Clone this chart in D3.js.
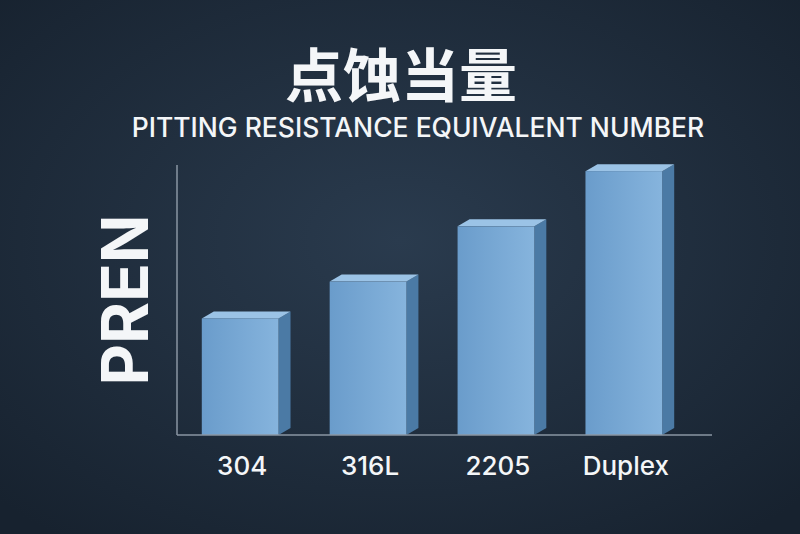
<!DOCTYPE html>
<html><head><meta charset="utf-8">
<script src="https://cdn.jsdelivr.net/npm/d3@7"></script>
<style>body{margin:0;background:#1d2b3b}</style>
</head><body>
<svg id="mainsvg" width="800" height="534"></svg>
<script>
const categories = ['304', '316L', '2205', 'Duplex']
const values = [19, 25, 34, 43]
const yTicks = [0, 44]

const svg = d3.select('#mainsvg')
const defs = svg.append('defs')
const bg = defs.append('radialGradient').attr('id', 'bg').attr('cx', '50%').attr('cy', '45%').attr('r', '70%')
bg.append('stop').attr('offset', '0%').attr('stop-color', '#2a3b4e')
bg.append('stop').attr('offset', '100%').attr('stop-color', '#17222f')
const front = defs.append('linearGradient').attr('id', 'front').attr('x1', 0).attr('x2', 1).attr('y1', 0).attr('y2', 0)
front.append('stop').attr('offset', '0%').attr('stop-color', '#6a9ccb')
front.append('stop').attr('offset', '100%').attr('stop-color', '#86b4dd')

svg.append('rect').attr('width', 800).attr('height', 534).attr('fill', 'url(#bg)')

let x = d3.scaleBand().domain(categories).range([189, 675]).paddingInner(0.4).paddingOuter(0.1)
let y = d3.scaleLinear().domain(d3.extent(yTicks)).range([435, 165])
let dx = 12, dy = 7

svg.append('text').attr('x', 401).attr('y', 97).attr('text-anchor', 'middle')
    .attr('fill', '#f4f6f8').attr('font-family', 'Noto Sans CJK SC').attr('font-weight', 700)
    .attr('font-size', 58).text('点蚀当量')
svg.append('text').attr('x', 418).attr('y', 137).attr('text-anchor', 'middle')
    .attr('fill', '#f4f6f8').attr('font-family', 'Inter, Roboto, sans-serif').attr('font-weight', 500)
    .attr('font-size', 26.5).text('PITTING RESISTANCE EQUIVALENT NUMBER')
svg.append('text').attr('transform', 'translate(148,300) rotate(-90)').attr('text-anchor', 'middle')
    .attr('fill', '#f4f6f8').attr('font-family', 'Inter, Roboto, sans-serif').attr('font-weight', 700)
    .attr('font-size', 64).text('PREN')

const g = svg.append('g')
const bars = g.selectAll('g.bar').data(categories).enter().append('g').attr('class', 'bar')
// side face
bars.append('path')
    .attr('d', (d, i) => {
        let x1 = x(d) + x.bandwidth(), t = y(values[i]), b = y(0)
        return `M${x1},${t} L${x1 + dx},${t - dy} L${x1 + dx},${b - dy} L${x1},${b} Z`
    })
    .attr('fill', '#4b7aa5')
// top face
bars.append('path')
    .attr('d', (d, i) => {
        let x0 = x(d), x1 = x0 + x.bandwidth(), t = y(values[i])
        return `M${x0},${t} L${x0 + dx},${t - dy} L${x1 + dx},${t - dy} L${x1},${t} Z`
    })
    .attr('fill', '#9bc3e6')
bars.append('rect')
    .attr('x', d => x(d))
    .attr('y', (d, i) => y(values[i]))
    .attr('width', x.bandwidth())
    .attr('height', (d, i) => y(0) - y(values[i]))
    .attr('fill', 'url(#front)')

// axes
svg.append('line').attr('x1', 177).attr('x2', 177).attr('y1', 165).attr('y2', 435)
    .attr('stroke', '#8a96a3').attr('stroke-width', 1.5)
svg.append('line').attr('x1', 177).attr('x2', 712).attr('y1', 435).attr('y2', 435)
    .attr('stroke', '#8a96a3').attr('stroke-width', 1.5)

svg.selectAll('text.cat').data(categories).enter().append('text').attr('class', 'cat')
    .attr('x', d => x(d) + x.bandwidth() / 2 + 2)
    .attr('y', 475).attr('text-anchor', 'middle')
    .attr('fill', '#f4f6f8').attr('font-family', 'Inter, Roboto, sans-serif').attr('font-weight', 500)
    .attr('font-size', 26).text(d => d)
</script>
</body></html>
